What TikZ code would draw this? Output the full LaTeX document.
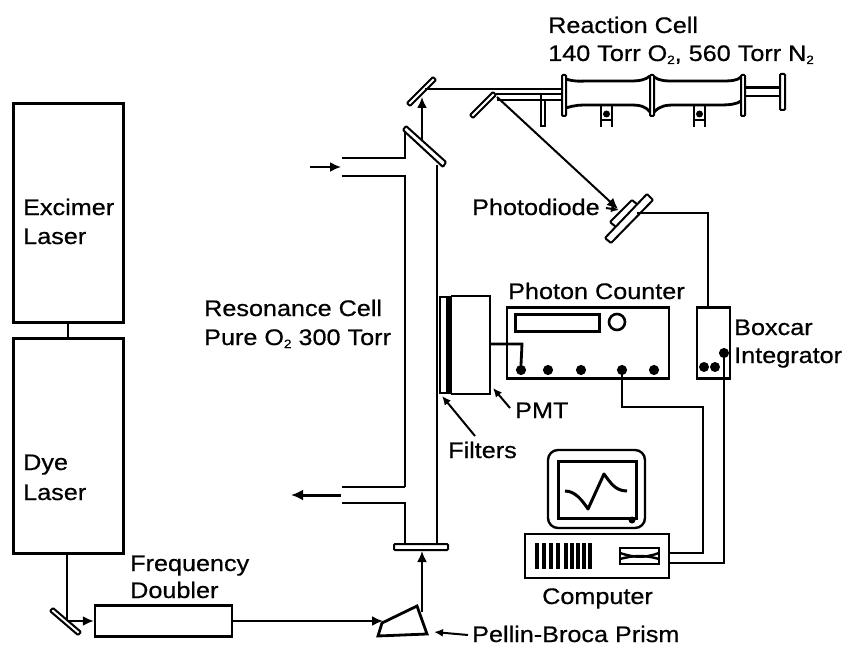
\documentclass[tikz,border=0pt]{standalone}
\usepackage{fontspec}
\setmainfont[FakeStretch=1.12,FakeBold=0.6]{Liberation Sans}
\usetikzlibrary{arrows.meta,calc}
\tikzset{
  ln/.style={line width=2pt,black},
  thk/.style={line width=2.8pt,black},
  box3/.style={draw,line width=3pt,black,inner sep=0pt},
  beam/.style={line width=2pt,black,-{Latex[length=11pt,width=10pt]}},
  mirror/.style={line width=2pt,black,fill=white,rounded corners=1pt},
  lbl/.style={font=\fontsize{22.5}{26}\selectfont,inner sep=0pt,anchor=base west},
  dot/.style={circle,draw,line width=2pt,fill=black,minimum size=8pt,inner sep=0pt}
}
\newcommand{\subtwo}{\raisebox{-3pt}{\fontsize{12}{12}\selectfont 2}}
\begin{document}
\begin{tikzpicture}[x=1pt,y=-1pt]
\useasboundingbox (0,0) rectangle (856,655);
% lasers
\node[box3,minimum width=110pt,minimum height=218pt] (excimer) at (68,213) {};
\node[box3,minimum width=110pt,minimum height=215pt] (dye) at (68,445.5) {};
\draw[ln] (excimer.south) -- (dye.north);
\node[lbl] (t1) at (23,215) {Excimer};
\node[lbl] (t2) at (23,244) {Laser};
\node[lbl] (t3) at (23,470) {Dye};
\node[lbl] (t4) at (23,500) {Laser};
% frequency doubler
\coordinate (m1a) at (50,611);
\coordinate (m1b) at (78,635);
\node[draw,line width=2.4pt,minimum width=137pt,minimum height=31pt,inner sep=0pt] (fd) at (163.5,621) {};
\draw[ln] (67,553) -- (67,622);
\draw[mirror] (m1a) -- ++(3,-3) -- ($(m1b)+(3,-3)$) -- (m1b) -- cycle;
\draw[beam] (67,621) -- (fd.west);
\node[lbl] (t5) at (130,571) {Frequency};
\node[lbl] (t6) at (130,598) {Doubler};
% prism
\coordinate (pr1) at (378,636);
\coordinate (pr2) at (427,634);
\coordinate (pr3) at (417,606);
\coordinate (pr4) at (382,623);
\draw[line width=2.8pt] (pr1) -- (pr2) -- (pr3) -- (pr4) -- cycle;
\draw[beam] (fd.east) -- (383,621);
\coordinate (pb) at (422,612);
\coordinate (fl) at (422,551);
\draw[beam] (pb) -- (fl);
\node[lbl] (t7) at (472,642) {Pellin-Broca Prism};
\draw[line width=2pt,-{Latex[length=9pt,width=8pt]}] (468,635) -- (434,632);
% resonance cell
\draw[ln,fill=white,rounded corners=1pt] (394,544) rectangle (448,550);
\draw[ln] (405,543) -- (405,503) -- (342,503);
\draw[thk] (342,487) -- (405,487);
\draw[ln] (405,487) -- (405,176) -- (342,176);
\draw[ln] (342,158) -- (405,158) -- (405,132);
\draw[ln] (437,543) -- (437,165);
\draw[mirror] (403,130) -- (406,126) -- (446,162) -- (443,167) -- cycle;
\draw[beam] (310,167) -- (341,167);
\draw[line width=3pt,-{Latex[length=12pt,width=11pt]}] (341,495) -- (291,495);
\node[lbl] (t8) at (204,316) {Resonance Cell};
\node[lbl] (t9) at (204,345) {Pure O\subtwo\ 300 Torr};
% beam up
\draw[beam] (422,140) -- (422,97);
% top mirrors
\draw[mirror] (407,103) -- (433,77) -- (436,80) -- (410,106) -- cycle;
\draw[mirror] (470,115) -- (493,92) -- (496,95) -- (473,118) -- cycle;
\draw[ln] (425,89) -- (563,89);
\draw[ln] (496,94) -- (563,94);
\draw[ln] (497,100) -- (563,100);
\draw[ln] (541,94) -- (541,126) -- (545,126) -- (545,100);
% reaction cell
\draw[ln,fill=white,rounded corners=1pt] (562,75) rectangle (566,116);
\draw[ln,fill=white,rounded corners=1pt] (650,75) rectangle (654,116);
\draw[ln,fill=white,rounded corners=1pt] (741,75) rectangle (745,116);
\draw[thk] (566,79) .. controls (575,82) and (580,81) .. (590,81) -- (630,81) .. controls (640,81) and (645,80) .. (650,76);
\draw[thk] (654,77) .. controls (660,81) and (665,81) .. (675,81) -- (720,81) .. controls (730,81) and (737,81) .. (741,77);
\draw[thk] (566,108) .. controls (575,105) and (580,105) .. (590,105) -- (630,105) .. controls (640,105) and (645,106) .. (650,112);
\draw[thk] (654,112) .. controls (660,106) and (665,105) .. (675,105) -- (720,105) .. controls (730,105) and (737,104) .. (741,101);
\draw[line width=3pt] (745,88) -- (780,88);
\draw[ln] (745,96) -- (780,96);
\draw[ln,fill=white,rounded corners=1pt] (780,74) rectangle (785,110);
\draw[ln] (601,106) -- (601,127) (612,106) -- (612,127) (601,120) -- (612,120);
\draw[ln] (694,106) -- (694,127) (705,106) -- (705,127) (694,120) -- (705,120);
\node[circle,fill=black,minimum size=7pt,inner sep=0pt] (c1) at (606.5,114) {};
\node[circle,fill=black,minimum size=7pt,inner sep=0pt] (c2) at (699.5,114) {};
\node[lbl] (t10) at (548,33) {Reaction Cell};
\node[lbl] (t11) at (548,61) {140 Torr O\subtwo, 560 Torr N\subtwo};
% photodiode
\draw[beam] (497,97) -- (618,209);
\draw[mirror] (610,222) -- (632,200) -- (638,205) -- (616,227) -- cycle;
\draw[mirror] (605,238) -- (647,194) -- (653,200) -- (611,243) -- cycle;
\coordinate (pdc) at (637,213);
\node[lbl] (t12) at (472,215) {Photodiode};
\draw[line width=2pt,-{Latex[length=8pt,width=7pt]}] (606,208) -- (619,210);
% boxcar
\node[draw,thk,minimum width=33pt,minimum height=71pt,inner sep=0pt] (box) at (713.5,343) {};
\draw[ln] (pdc) -- (708,213) -- (708,307);
\node[lbl] (t13) at (734,335) {Boxcar};
\node[lbl] (t14) at (734,363) {Integrator};
\node[circle,fill=black,minimum size=10pt,inner sep=0pt] (b1) at (704,367) {};
\node[circle,fill=black,minimum size=10pt,inner sep=0pt] (b2) at (715,367) {};
\node[dot] (b3) at (724,353) {};
% photon counter
\node[draw,thk,minimum width=162pt,minimum height=71pt,inner sep=0pt] (pc) at (588,343) {};
\draw[line width=3pt] (515,314) rectangle (599,331);
\draw[line width=2.6pt] (617,322) circle (8);
\foreach \n/\x in {d1/521,d2/548,d3/581,d4/622,d5/654}
  \node[dot] (\n) at (\x,370) {};
\node[lbl] (t15) at (508,299) {Photon Counter};
% PMT
\draw[ln] (440,297) rectangle (447,393);
\fill (447,296) rectangle (452,394);
\draw[thk] (451,296) -- (490,296) -- (490,394) -- (451,394);
\draw[thk] (490,344) -- (522,344) -- (d1.north);
\node[lbl] (t16) at (515,418) {PMT};
\draw[line width=2pt,-{Latex[length=9pt,width=8pt]}] (510,408) -- (493,388);
\node[lbl] (t17) at (448,458) {Filters};
\draw[line width=2pt,-{Latex[length=9pt,width=8pt]}] (475,436) -- (442,396);
% computer
\draw[line width=2.4pt,rounded corners=10pt] (548,450) rectangle (645,528);
\draw[line width=3pt] (558,461) rectangle (636,518);
\fill (632,520) circle (3.5);
\draw[line width=3pt,line join=round] (565,491) .. controls (575,491) and (582,500) .. (588,509) -- (604,474) .. controls (610,482) and (615,491) .. (627,491);
\node[draw,line width=2.4pt,minimum width=144pt,minimum height=44pt,inner sep=0pt] (comp) at (597,556) {};
\foreach \x in {537,544,551,558,566,572,578,584,590}
  \draw[line width=3.6pt] (\x,543) -- (\x,569);
\draw[line width=2.8pt] (620,548) rectangle (659,564);
\draw[line width=2.4pt] (620,553) .. controls (635,558) and (645,558) .. (659,553);
\draw[line width=2.4pt] (620,559) .. controls (635,555) and (645,555) .. (659,559);
\node[lbl] (t18) at (542,604) {Computer};
% cables
\draw[ln] (d4) -- (622,407) -- (703,407) -- (703,553) -- (669,553);
\draw[ln] (b3) -- (724,563) -- (669,563);
\end{tikzpicture}
\end{document}
